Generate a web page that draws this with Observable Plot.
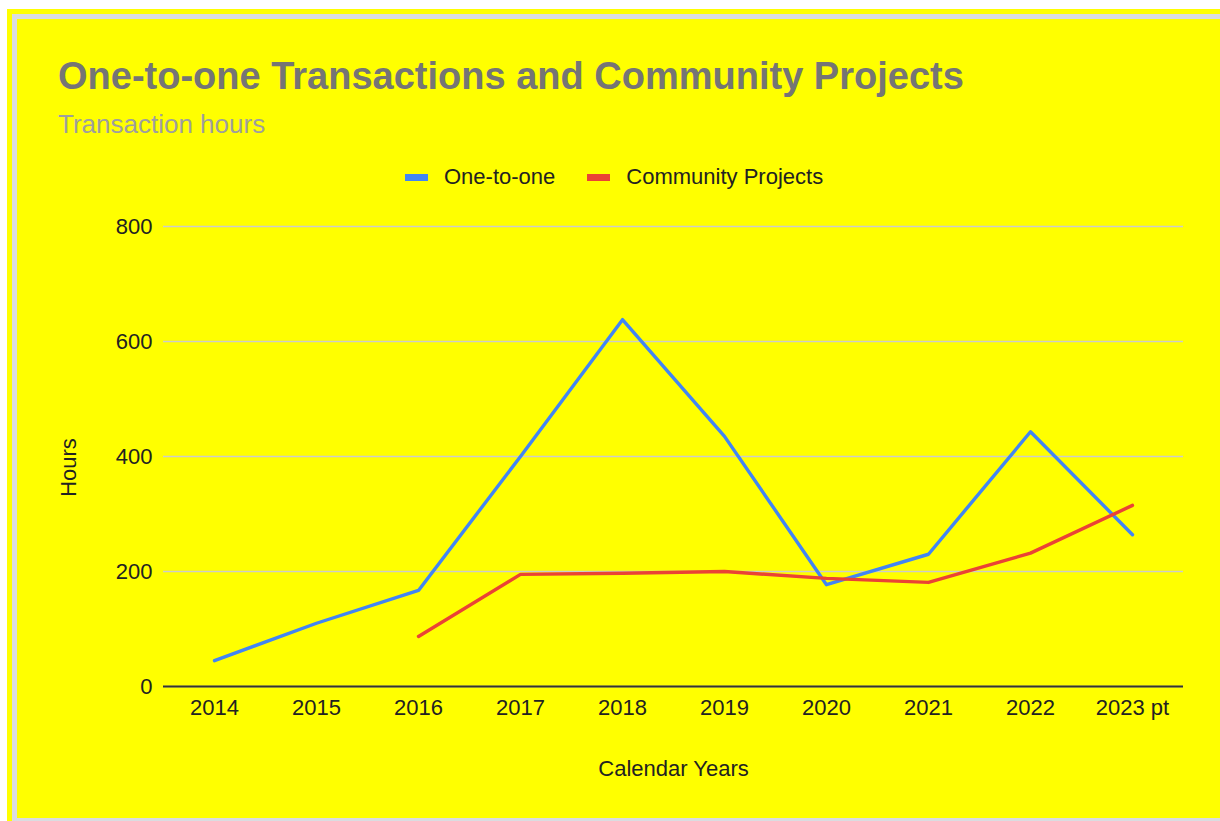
<!DOCTYPE html>
<html>
<head>
<meta charset="utf-8">
<script src="https://cdn.jsdelivr.net/npm/d3@7"></script>
<script src="https://cdn.jsdelivr.net/npm/@observablehq/plot@0.6"></script>
<style>
  html, body { margin: 0; padding: 0; background: #ffffff; width: 1220px; height: 821px; overflow: hidden; }
  #outer { position: absolute; left: 7px; top: 9px; width: 1213px; height: 812px; background: #ffff00; }
  #frame { position: absolute; left: 12px; top: 14px; width: 1300px; height: 809px; box-sizing: border-box;
           border: 5px solid #dadce0; background: #ffff00; }
  .t { position: absolute; font-family: "Liberation Sans", Arial, sans-serif; white-space: nowrap; }
  #title { left: 58px; top: 55px; font-size: 38px; font-weight: bold; color: #757575; }
  #subtitle { left: 58px; top: 109px; font-size: 26px; color: #9e9e9e; }
  #legend { left: 405px; top: 164px; display: flex; font-size: 22px; color: #222; }
  .item { display: flex; align-items: center; margin-right: 32px; }
  .sw { width: 23px; height: 7px; margin-right: 16px; }
  #chart { position: absolute; left: 0; top: 200px; }
</style>
</head>
<body>
<div id="outer"></div>
<div id="frame"></div>
<div class="t" id="title">One-to-one Transactions and Community Projects</div>
<div class="t" id="subtitle">Transaction hours</div>
<div class="t" id="legend"></div>
<div id="chart"></div>
<script>
const years = ["2014", "2015", "2016", "2017", "2018", "2019", "2020", "2021", "2022", "2023 pt"];
const oneToOne = [45, 110, 167, 400, 638, 435, 177, 230, 443, 264];
const community = [null, null, 87, 195, 197, 200, 188, 181, 232, 315];
const seriesNames = ["One-to-one", "Community Projects"];
const seriesColors = ["#4285f4", "#ea4335"];
const yTicks = [0, 200, 400, 600, 800];
const yLabel = "Hours";
const xLabel = "Calendar Years";

const rows = [];
years.forEach((y, i) => {
  rows.push({year: y, value: oneToOne[i], series: seriesNames[0]});
  rows.push({year: y, value: community[i], series: seriesNames[1]});
});

const legend = document.getElementById("legend");
seriesNames.forEach((n, i) => {
  const it = document.createElement("div");
  it.className = "item";
  it.innerHTML = `<div class="sw" style="background:${seriesColors[i]}"></div><span>${n}</span>`;
  legend.appendChild(it);
});

const chart = Plot.plot({
  width: 1220,
  height: 600,
  marginLeft: 163,
  marginRight: 37,
  marginTop: 26,
  marginBottom: 114,
  style: {background: "transparent", fontFamily: "Liberation Sans, Arial, sans-serif", fontSize: "22px", color: "#222"},
  x: {type: "point", domain: years, padding: 0.5},
  y: {domain: [0, 800]},
  color: {domain: seriesNames, range: seriesColors},
  marks: [
    Plot.gridY(yTicks, {stroke: "#cccccc", strokeOpacity: 1, strokeWidth: 1.3}),
    Plot.ruleY([0], {stroke: "#333333", strokeWidth: 2}),
    Plot.axisY({ticks: yTicks, tickSize: 0, tickPadding: 11, label: null, fill: "#222"}),
    Plot.axisX({tickSize: 0, tickPadding: 13, label: xLabel, labelAnchor: "center", labelOffset: 89, fill: "#222"}),
    Plot.text([yLabel], {frameAnchor: "left", textAnchor: "middle", dx: -95, dy: 11, rotate: -90, fill: "#222", fontSize: 22}),
    Plot.line(rows.filter(d => d.value != null), {x: "year", y: "value", stroke: "series", z: "series", strokeWidth: 3.4, curve: "linear"})
  ]
});
document.getElementById("chart").appendChild(chart);
</script>
</body>
</html>
